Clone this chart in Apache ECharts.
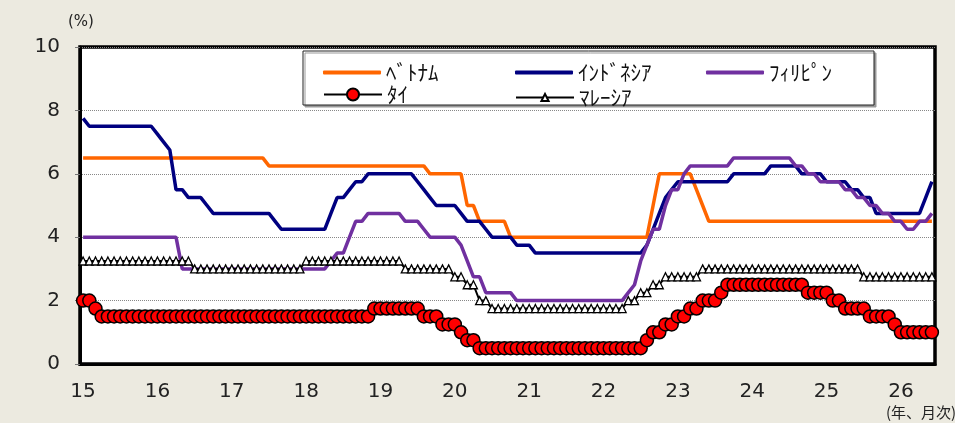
<!DOCTYPE html>
<html>
<head>
<meta charset="utf-8">
<script src="https://cdn.jsdelivr.net/npm/echarts@6/dist/echarts.min.js"></script>
<style>
  html, body { margin: 0; padding: 0; background: #ECEAE0; }
  #chart { width: 955px; height: 423px; }
</style>
</head>
<body>
<div id="chart"></div>
<script>
// 年ラベル (x軸)
const yearLabels = ['15', '16', '17', '18', '19', '20', '21', '22', '23', '24', '25', '26']
// 月次カテゴリ 2015/1 〜 2026/6
const months = []
for (let y = 0; y < yearLabels.length; y++) {
  for (let m = 1; m <= 12; m++) {
    if (y === yearLabels.length - 1 && m > 6) break
    months.push(yearLabels[y] + '/' + m)
  }
}

// ベトナム
const vietnam = [
  6.5, 6.5, 6.5, 6.5, 6.5, 6.5, 6.5, 6.5, 6.5, 6.5, 6.5, 6.5,
  6.5, 6.5, 6.5, 6.5, 6.5, 6.5, 6.5, 6.5, 6.5, 6.5, 6.5, 6.5,
  6.5, 6.5, 6.5, 6.5, 6.5, 6.5, 6.25, 6.25, 6.25, 6.25, 6.25, 6.25,
  6.25, 6.25, 6.25, 6.25, 6.25, 6.25, 6.25, 6.25, 6.25, 6.25, 6.25, 6.25,
  6.25, 6.25, 6.25, 6.25, 6.25, 6.25, 6.25, 6.25, 6.0, 6.0, 6.0, 6.0,
  6.0, 6.0, 5.0, 5.0, 4.5, 4.5, 4.5, 4.5, 4.5, 4.0, 4.0, 4.0,
  4.0, 4.0, 4.0, 4.0, 4.0, 4.0, 4.0, 4.0, 4.0, 4.0, 4.0, 4.0,
  4.0, 4.0, 4.0, 4.0, 4.0, 4.0, 4.0, 4.0, 5.0, 6.0, 6.0, 6.0,
  6.0, 6.0, 6.0, 5.5, 5.0, 4.5, 4.5, 4.5, 4.5, 4.5, 4.5, 4.5,
  4.5, 4.5, 4.5, 4.5, 4.5, 4.5, 4.5, 4.5, 4.5, 4.5, 4.5, 4.5,
  4.5, 4.5, 4.5, 4.5, 4.5, 4.5, 4.5, 4.5, 4.5, 4.5, 4.5, 4.5,
  4.5, 4.5, 4.5, 4.5, 4.5, 4.5
]

// インドネシア
const indonesia = [
  7.75, 7.5, 7.5, 7.5, 7.5, 7.5, 7.5, 7.5, 7.5, 7.5, 7.5, 7.5,
  7.25, 7.0, 6.75, 5.5, 5.5, 5.25, 5.25, 5.25, 5.0, 4.75, 4.75, 4.75,
  4.75, 4.75, 4.75, 4.75, 4.75, 4.75, 4.75, 4.5, 4.25, 4.25, 4.25, 4.25,
  4.25, 4.25, 4.25, 4.25, 4.75, 5.25, 5.25, 5.5, 5.75, 5.75, 6.0, 6.0,
  6.0, 6.0, 6.0, 6.0, 6.0, 6.0, 5.75, 5.5, 5.25, 5.0, 5.0, 5.0,
  5.0, 4.75, 4.5, 4.5, 4.5, 4.25, 4.0, 4.0, 4.0, 4.0, 3.75, 3.75,
  3.75, 3.5, 3.5, 3.5, 3.5, 3.5, 3.5, 3.5, 3.5, 3.5, 3.5, 3.5,
  3.5, 3.5, 3.5, 3.5, 3.5, 3.5, 3.5, 3.75, 4.25, 4.75, 5.25, 5.5,
  5.75, 5.75, 5.75, 5.75, 5.75, 5.75, 5.75, 5.75, 5.75, 6.0, 6.0, 6.0,
  6.0, 6.0, 6.0, 6.25, 6.25, 6.25, 6.25, 6.25, 6.0, 6.0, 6.0, 6.0,
  5.75, 5.75, 5.75, 5.75, 5.5, 5.5, 5.25, 5.25, 4.75, 4.75, 4.75, 4.75,
  4.75, 4.75, 4.75, 4.75, 5.25, 5.75
]

// フィリピン
const philippines = [
  4.0, 4.0, 4.0, 4.0, 4.0, 4.0, 4.0, 4.0, 4.0, 4.0, 4.0, 4.0,
  4.0, 4.0, 4.0, 4.0, 3.0, 3.0, 3.0, 3.0, 3.0, 3.0, 3.0, 3.0,
  3.0, 3.0, 3.0, 3.0, 3.0, 3.0, 3.0, 3.0, 3.0, 3.0, 3.0, 3.0,
  3.0, 3.0, 3.0, 3.0, 3.25, 3.5, 3.5, 4.0, 4.5, 4.5, 4.75, 4.75,
  4.75, 4.75, 4.75, 4.75, 4.5, 4.5, 4.5, 4.25, 4.0, 4.0, 4.0, 4.0,
  4.0, 3.75, 3.25, 2.75, 2.75, 2.25, 2.25, 2.25, 2.25, 2.25, 2.0, 2.0,
  2.0, 2.0, 2.0, 2.0, 2.0, 2.0, 2.0, 2.0, 2.0, 2.0, 2.0, 2.0,
  2.0, 2.0, 2.0, 2.0, 2.25, 2.5, 3.25, 3.75, 4.25, 4.25, 5.0, 5.5,
  5.5, 6.0, 6.25, 6.25, 6.25, 6.25, 6.25, 6.25, 6.25, 6.5, 6.5, 6.5,
  6.5, 6.5, 6.5, 6.5, 6.5, 6.5, 6.5, 6.25, 6.25, 6.0, 6.0, 5.75,
  5.75, 5.75, 5.75, 5.5, 5.5, 5.25, 5.25, 5.0, 5.0, 4.75, 4.75, 4.5,
  4.5, 4.25, 4.25, 4.5, 4.5, 4.75
]

// タイ
const thailand = [
  2.0, 2.0, 1.75, 1.5, 1.5, 1.5, 1.5, 1.5, 1.5, 1.5, 1.5, 1.5,
  1.5, 1.5, 1.5, 1.5, 1.5, 1.5, 1.5, 1.5, 1.5, 1.5, 1.5, 1.5,
  1.5, 1.5, 1.5, 1.5, 1.5, 1.5, 1.5, 1.5, 1.5, 1.5, 1.5, 1.5,
  1.5, 1.5, 1.5, 1.5, 1.5, 1.5, 1.5, 1.5, 1.5, 1.5, 1.5, 1.75,
  1.75, 1.75, 1.75, 1.75, 1.75, 1.75, 1.75, 1.5, 1.5, 1.5, 1.25, 1.25,
  1.25, 1.0, 0.75, 0.75, 0.5, 0.5, 0.5, 0.5, 0.5, 0.5, 0.5, 0.5,
  0.5, 0.5, 0.5, 0.5, 0.5, 0.5, 0.5, 0.5, 0.5, 0.5, 0.5, 0.5,
  0.5, 0.5, 0.5, 0.5, 0.5, 0.5, 0.5, 0.75, 1.0, 1.0, 1.25, 1.25,
  1.5, 1.5, 1.75, 1.75, 2.0, 2.0, 2.0, 2.25, 2.5, 2.5, 2.5, 2.5,
  2.5, 2.5, 2.5, 2.5, 2.5, 2.5, 2.5, 2.5, 2.5, 2.25, 2.25, 2.25,
  2.25, 2.0, 2.0, 1.75, 1.75, 1.75, 1.75, 1.5, 1.5, 1.5, 1.5, 1.25,
  1.0, 1.0, 1.0, 1.0, 1.0, 1.0
]

// マレーシア
const malaysia = [
  3.25, 3.25, 3.25, 3.25, 3.25, 3.25, 3.25, 3.25, 3.25, 3.25, 3.25, 3.25,
  3.25, 3.25, 3.25, 3.25, 3.25, 3.25, 3.0, 3.0, 3.0, 3.0, 3.0, 3.0,
  3.0, 3.0, 3.0, 3.0, 3.0, 3.0, 3.0, 3.0, 3.0, 3.0, 3.0, 3.0,
  3.25, 3.25, 3.25, 3.25, 3.25, 3.25, 3.25, 3.25, 3.25, 3.25, 3.25, 3.25,
  3.25, 3.25, 3.25, 3.25, 3.0, 3.0, 3.0, 3.0, 3.0, 3.0, 3.0, 3.0,
  2.75, 2.75, 2.5, 2.5, 2.0, 2.0, 1.75, 1.75, 1.75, 1.75, 1.75, 1.75,
  1.75, 1.75, 1.75, 1.75, 1.75, 1.75, 1.75, 1.75, 1.75, 1.75, 1.75, 1.75,
  1.75, 1.75, 1.75, 1.75, 2.0, 2.0, 2.25, 2.25, 2.5, 2.5, 2.75, 2.75,
  2.75, 2.75, 2.75, 2.75, 3.0, 3.0, 3.0, 3.0, 3.0, 3.0, 3.0, 3.0,
  3.0, 3.0, 3.0, 3.0, 3.0, 3.0, 3.0, 3.0, 3.0, 3.0, 3.0, 3.0,
  3.0, 3.0, 3.0, 3.0, 3.0, 3.0, 2.75, 2.75, 2.75, 2.75, 2.75, 2.75,
  2.75, 2.75, 2.75, 2.75, 2.75, 2.75
]

const FONT = 'DejaVu Sans'
const JP = 'Noto Sans CJK JP'

const legendText = { fontFamily: JP, fontSize: 21, color: '#111', padding: [0, 0, 5, 0] }
const makeLegend = (name, left, top, h, icon) => ({
  data: [name],
  left: left,
  top: top,
  padding: 0,
  z: 20,
  icon: icon,
  itemWidth: 58,
  itemHeight: h,
  selectedMode: false,
  textStyle: legendText
})

const chart = echarts.init(document.getElementById('chart'))
chart.setOption({
  animation: false,
  backgroundColor: '#ECEAE0',
  grid: {
    left: 80,
    right: 20,
    top: 47,
    bottom: 59,
    show: true,
    backgroundColor: '#fff',
    borderColor: '#000',
    borderWidth: 3.5
  },
  graphic: [
    {
      type: 'rect',
      shape: { x: 303, y: 51, width: 571, height: 54 },
      style: { fill: '#fff', stroke: '#222', lineWidth: 1, shadowColor: '#999', shadowOffsetX: 2, shadowOffsetY: 2 },
      z: 3
    },
    {
      type: 'text',
      left: 68, top: 15,
      style: { text: '(%)', fontFamily: FONT, fontSize: 15, fill: '#222' }
    },
    {
      type: 'text',
      left: 886, top: 405,
      style: { text: '(年、月次)', fontFamily: JP, fontSize: 15, fill: '#222' }
    }
  ],
  legend: [
    makeLegend('ﾍﾞﾄﾅﾑ', 323, 62, 4, 'roundRect'),
    makeLegend('ｲﾝﾄﾞﾈｼｱ', 515, 62, 4, 'roundRect'),
    makeLegend('ﾌｨﾘﾋﾟﾝ', 706, 62, 4, 'roundRect'),
    makeLegend('ﾀｲ', 323, 84, 15),
    makeLegend('ﾏﾚｰｼｱ', 515, 87, 9)
  ],
  xAxis: {
    type: 'category',
    data: months,
    boundaryGap: true,
    axisLine: { lineStyle: { color: '#000', width: 3 } },
    axisTick: {
      interval: (i) => i % 12 === 0,
      length: 7,
      lineStyle: { color: '#777', width: 1 }
    },
    axisLabel: {
      interval: (i) => i % 12 === 0,
      formatter: (v) => v.split('/')[0],
      fontFamily: FONT,
      fontSize: 20,
      color: '#222',
      margin: 18
    },
    splitLine: { show: false }
  },
  yAxis: {
    type: 'value',
    min: 0,
    max: 10,
    interval: 2,
    axisLine: { show: true, lineStyle: { color: '#000', width: 3 } },
    axisTick: { show: true, length: 5, lineStyle: { color: '#777' } },
    axisLabel: { fontFamily: FONT, fontSize: 20, color: '#222', margin: 20 },
    splitLine: { lineStyle: { color: '#888', type: 'dotted', width: 1 } }
  },
  series: [
    {
      name: 'ﾍﾞﾄﾅﾑ', type: 'line', data: vietnam, symbol: 'none',
      lineStyle: { color: '#FF6600', width: 3.5 }, itemStyle: { color: '#FF6600' }
    },
    {
      name: 'ｲﾝﾄﾞﾈｼｱ', type: 'line', data: indonesia, symbol: 'none',
      lineStyle: { color: '#000080', width: 3.5 }, itemStyle: { color: '#000080' }
    },
    {
      name: 'ﾌｨﾘﾋﾟﾝ', type: 'line', data: philippines, symbol: 'none',
      lineStyle: { color: '#7030A0', width: 3.5 }, itemStyle: { color: '#7030A0' }
    },
    {
      name: 'ﾏﾚｰｼｱ', type: 'line', data: malaysia,
      symbol: 'triangle', symbolSize: 8, showAllSymbol: true,
      lineStyle: { color: '#000', width: 2 },
      itemStyle: { color: '#fff', borderColor: '#000', borderWidth: 1.3 }
    },
    {
      name: 'ﾀｲ', type: 'line', data: thailand,
      symbol: 'circle', symbolSize: 13, showAllSymbol: true,
      lineStyle: { color: '#000', width: 2 },
      itemStyle: { color: '#FF0000', borderColor: '#000', borderWidth: 1.5 }
    }
  ]
})
</script>
</body>
</html>
